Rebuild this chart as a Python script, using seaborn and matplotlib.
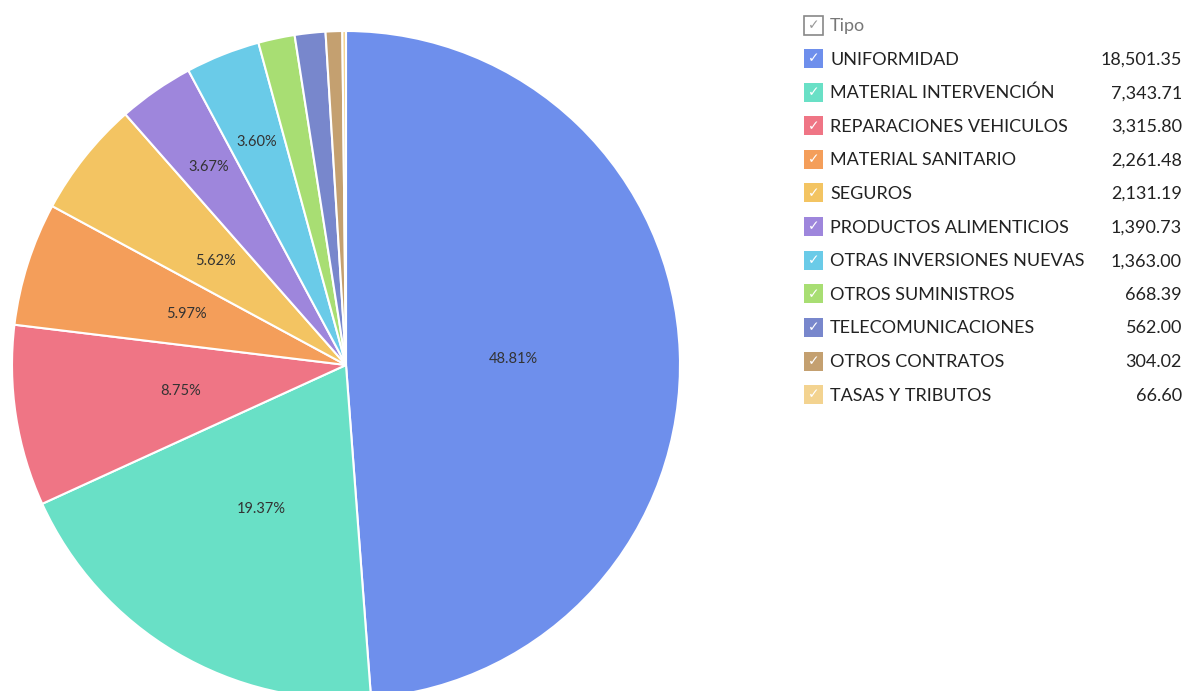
import numpy as np
import matplotlib
matplotlib.use("Agg")
import matplotlib.pyplot as plt
from matplotlib.patches import Rectangle
import seaborn as sns

# Datos
tipos = ["UNIFORMIDAD", "MATERIAL INTERVENCIÓN", "REPARACIONES VEHICULOS",
         "MATERIAL SANITARIO", "SEGUROS", "PRODUCTOS ALIMENTICIOS",
         "OTRAS INVERSIONES NUEVAS", "OTROS SUMINISTROS", "TELECOMUNICACIONES",
         "OTROS CONTRATOS", "TASAS Y TRIBUTOS"]
importes = [18501.35, 7343.71, 3315.80, 2261.48, 2131.19, 1390.73,
            1363.00, 668.39, 562.00, 304.02, 66.60]
colores = ["#6e8fec", "#69e0c6", "#ef7585", "#f49e5a", "#f3c462", "#9e86dc",
           "#6acbe8", "#a8de73", "#7887cc", "#c4a070", "#f3d390"]

sns.set_theme(style="white")
plt.rcParams['font.family'] = ['Lato', 'DejaVu Sans']

W, H = 1186, 691
fig = plt.figure(figsize=(W / 100, H / 100), dpi=100)

# Pie: centro (346, 365) px, radio 334 px
cx, cy, r = 346, 365, 334
ax = fig.add_axes([(cx - r) / W, (H - cy - r) / H, 2 * r / W, 2 * r / H])
wedges, _ = ax.pie(importes, colors=colores, startangle=90, counterclock=False,
                   radius=1, wedgeprops=dict(edgecolor="white", linewidth=1.5))
ax.set_xlim(-1, 1)
ax.set_ylim(-1, 1)
ax.set_aspect("equal")
ax.axis("off")

total = sum(importes)
for w, v in zip(wedges, importes):
    pct = v / total * 100
    if pct < 3:
        continue
    ang = np.deg2rad((w.theta1 + w.theta2) / 2)
    d = 0.5 if pct >= 5 else 0.72
    ax.text(d * np.cos(ang), d * np.sin(ang), f"{pct:.2f}%", ha="center",
            va="center", fontsize=10.5, color="#333333")

# Leyenda
def px(x, y):
    return x / W, 1 - y / H

caja = 19
x_caja, x_txt, x_val = 804, 830, 1182
y0, paso = 25, 33.6

fx, fy = px(x_caja, y0 - caja / 2)
fig.patches.append(Rectangle((fx, fy - caja / H), caja / W, caja / H,
                             transform=fig.transFigure, facecolor="white",
                             edgecolor="#888888", linewidth=1.2))
fig.text(*px(x_caja + caja / 2, y0), "✓", ha="center", va="center",
         fontsize=10, color="#999999", family=["DejaVu Sans"])
fig.text(*px(x_txt, y0 + 1), "Tipo", ha="left", va="center", fontsize=13,
         color="#777777")

for i, (t, v, c) in enumerate(zip(tipos, importes, colores)):
    y = y0 + paso * (i + 1)
    fx, fy = px(x_caja, y - caja / 2)
    fig.patches.append(Rectangle((fx, fy - caja / H), caja / W, caja / H,
                                 transform=fig.transFigure, facecolor=c,
                                 edgecolor="none"))
    fig.text(*px(x_caja + caja / 2, y), "✓", ha="center", va="center",
             fontsize=10, color="white", family=["DejaVu Sans"])
    fig.text(*px(x_txt, y + 1), t, ha="left", va="center", fontsize=13,
             color="#222222")
    fig.text(*px(x_val, y + 1), f"{v:,.2f}", ha="right", va="center",
             fontsize=13, color="#222222")

fig.savefig("out.png", dpi=100)
